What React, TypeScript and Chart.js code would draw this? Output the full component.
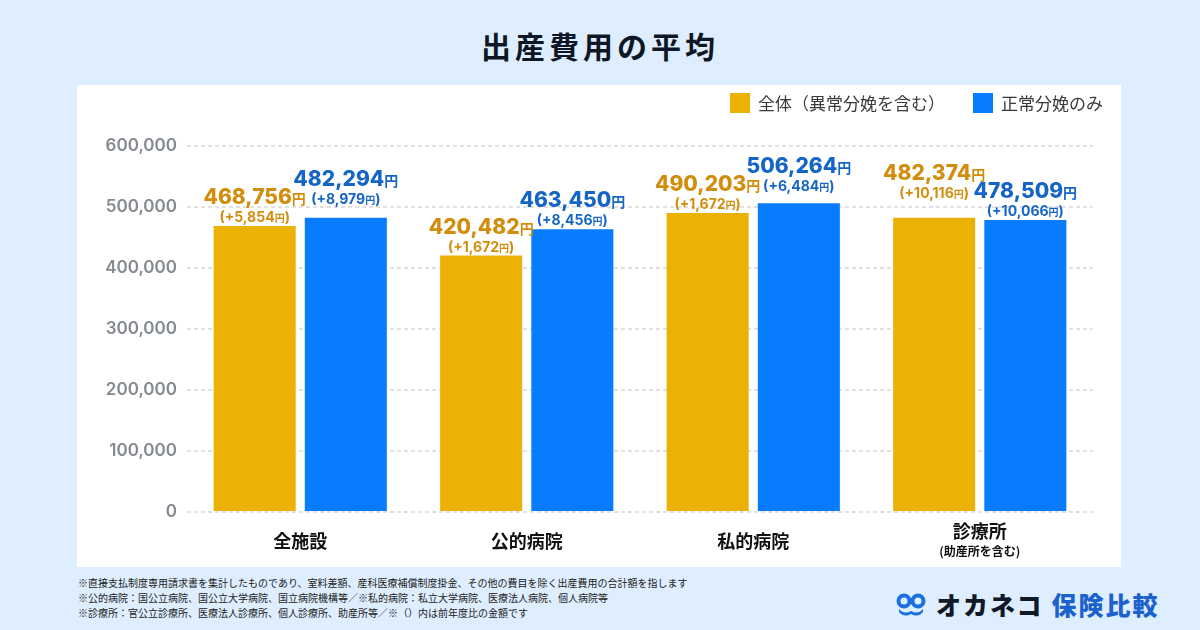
import React, { useEffect, useRef } from 'react';
import { Chart, registerables } from 'chart.js';

Chart.register(...registerables);

const categories = ['全施設', '公的病院', '私的病院', '診療所'];
const categorySubLabels = ['', '', '', '(助産所を含む)'];
const seriesNames = ['全体（異常分娩を含む）', '正常分娩のみ'];
const totalValues = [468756, 420482, 490203, 482374];
const normalValues = [482294, 463450, 506264, 478509];
const totalDiffs = [5854, 1672, 1672, 10116];
const normalDiffs = [8979, 8456, 6484, 10066];
const yTickValues = [0, 100000, 200000, 300000, 400000, 500000, 600000];

const footnotes = [
  '※直接支払制度専用請求書を集計したものであり、室料差額、産科医療補償制度掛金、その他の費目を除く出産費用の合計額を指します',
  '※公的病院：国公立病院、国公立大学病院、国立病院機構等／※私的病院：私立大学病院、医療法人病院、個人病院等',
  '※診療所：官公立診療所、医療法人診療所、個人診療所、助産所等／※（）内は前年度比の金額です',
];

const GOLD = '#ecb105';
const BLUE = '#077cff';
const GOLD_TEXT = '#d18d0b';
const BLUE_TEXT = '#1565c6';
const NUM_FONT = "Inter, 'Noto Sans CJK JP', sans-serif";
const JP_FONT = "'Noto Sans CJK JP', 'Noto Sans', sans-serif";

const fmt = (v: number) => v.toLocaleString('en-US');

const valueLabelPlugin = {
  id: 'valueLabels',
  afterDatasetsDraw(chart: any) {
    const ctx = chart.ctx;
    const diffs = [totalDiffs, normalDiffs];
    const colors = [GOLD_TEXT, BLUE_TEXT];
    const metas = chart.data.datasets.map((_: any, di: number) => chart.getDatasetMeta(di));
    const n = chart.data.labels.length;
    for (let i = 0; i < n; i++) {
      // label anchor per bar, with simple collision avoidance inside a category
      const anchors = metas.map((m: any) => m.data[i].y - 0);
      if (anchors.length === 2 && Math.abs(anchors[0] - anchors[1]) < 18) {
        if (anchors[0] <= anchors[1]) anchors[0] = anchors[1] - 18;
        else anchors[1] = anchors[0] - 18;
      }
      metas.forEach((meta: any, di: number) => {
        const bar = meta.data[i];
        const v = chart.data.datasets[di].data[i] as number;
        const top = anchors[di];
        ctx.save();
        ctx.fillStyle = colors[di];
        ctx.textBaseline = 'alphabetic';
        ctx.textAlign = 'left';
        const main = fmt(v);
        ctx.font = `800 21px ${NUM_FONT}`;
        const wMain = ctx.measureText(main).width;
        ctx.font = `700 14px ${JP_FONT}`;
        const wYen = ctx.measureText('円').width;
        let x = bar.x - (wMain + wYen) / 2;
        const yMain = top - 22;
        ctx.font = `800 21px ${NUM_FONT}`;
        ctx.fillText(main, x, yMain);
        ctx.font = `700 14px ${JP_FONT}`;
        ctx.fillText('円', x + wMain, yMain);
        const pre = `(+${fmt(diffs[di][i])}`;
        ctx.font = `700 14px ${NUM_FONT}`;
        const wPre = ctx.measureText(pre).width;
        const wClose = ctx.measureText(')').width;
        ctx.font = `700 10px ${JP_FONT}`;
        const wYen2 = ctx.measureText('円').width;
        x = bar.x - (wPre + wYen2 + wClose) / 2;
        const ySub = top - 4;
        ctx.font = `700 14px ${NUM_FONT}`;
        ctx.fillText(pre, x, ySub);
        ctx.font = `700 10px ${JP_FONT}`;
        ctx.fillText('円', x + wPre, ySub);
        ctx.font = `700 14px ${NUM_FONT}`;
        ctx.fillText(')', x + wPre + wYen2, ySub);
        ctx.restore();
      });
    }
  },
};

const categoryLabelPlugin = {
  id: 'categoryLabels',
  afterDraw(chart: any) {
    const ctx = chart.ctx;
    const xs = chart.scales.x;
    const base = chart.chartArea.bottom;
    ctx.save();
    ctx.fillStyle = '#111111';
    ctx.textAlign = 'center';
    ctx.textBaseline = 'middle';
    categories.forEach((c, i) => {
      const x = xs.getPixelForValue(i);
      const sub = categorySubLabels[i];
      ctx.font = `700 18px ${JP_FONT}`;
      if (sub) {
        ctx.fillText(c, x, base + 19);
        ctx.font = `700 12px ${JP_FONT}`;
        ctx.fillText(sub, x, base + 39);
      } else {
        ctx.fillText(c, x, base + 29);
      }
    });
    ctx.restore();
  },
};

const legendPlugin = {
  id: 'customLegend',
  afterDraw(chart: any) {
    const ctx = chart.ctx;
    const box = 20;
    const gapText = 8;
    const gapItem = 28;
    const rightEdge = 1026;
    const cy = 18;
    ctx.save();
    ctx.font = `400 17px ${JP_FONT}`;
    const items = chart.data.datasets.map((ds: any) => ({
      text: ds.label as string,
      color: ds.backgroundColor as string,
      w: ctx.measureText(ds.label).width,
    }));
    let total = 0;
    items.forEach((it: any, i: number) => {
      total += box + gapText + it.w + (i < items.length - 1 ? gapItem : 0);
    });
    let x = rightEdge - total;
    ctx.textBaseline = 'middle';
    ctx.textAlign = 'left';
    items.forEach((it: any) => {
      ctx.fillStyle = it.color;
      ctx.fillRect(x, cy - box / 2, box, box);
      x += box + gapText;
      ctx.fillStyle = '#3a3a3a';
      ctx.fillText(it.text, x, cy + 1);
      x += it.w + gapItem;
    });
    ctx.restore();
  },
};

function ChartCanvas() {
  const ref = useRef<HTMLCanvasElement | null>(null);
  useEffect(() => {
    if (!ref.current) return;
    const chart = new Chart(ref.current, {
      type: 'bar',
      data: {
        labels: categories,
        datasets: [
          {
            label: seriesNames[0],
            data: totalValues,
            backgroundColor: GOLD,
            categoryPercentage: 0.805,
            barPercentage: 0.9,
          },
          {
            label: seriesNames[1],
            data: normalValues,
            backgroundColor: BLUE,
            categoryPercentage: 0.805,
            barPercentage: 0.9,
          },
        ],
      },
      options: {
        responsive: false,
        animation: false,
        devicePixelRatio: 1,
        layout: { padding: { top: 61, bottom: 55, left: 0, right: 28 } },
        plugins: {
          legend: { display: false },
          tooltip: { enabled: false },
        },
        scales: {
          x: {
            display: false,
            grid: { display: false },
          },
          y: {
            min: 0,
            max: 600000,
            afterFit(scale: any) {
              scale.width = 110;
            },
            afterBuildTicks(scale: any) {
              scale.ticks = yTickValues.map((v) => ({ value: v }));
            },
            ticks: {
              padding: 10,
              color: '#858a91',
              font: { family: NUM_FONT, size: 17, weight: 600 },
              callback: (v: any) => fmt(Number(v)),
            },
            grid: {
              color: '#e1e1e1',
              lineWidth: 2,
              drawTicks: false,
            },
            border: { display: false, dash: [4, 3] },
          },
        },
      },
      plugins: [valueLabelPlugin, categoryLabelPlugin, legendPlugin],
    } as any);
    return () => chart.destroy();
  }, []);
  return <canvas ref={ref} width={1044} height={482} style={{ display: 'block', width: 1044, height: 482 }} />;
}

function LogoIcon() {
  return (
    <svg width="30" height="26" viewBox="0 0 30 26" style={{ display: 'block' }}>
      <circle cx="8" cy="10" r="5.5" fill="none" stroke="#1b6fe0" strokeWidth="4" />
      <circle cx="22" cy="10" r="5.5" fill="none" stroke="#1b6fe0" strokeWidth="4" />
      <path d="M3 18 Q8 24 15 20 Q22 24 27 18 L27 21 Q22 27 15 23 Q8 27 3 21 Z" fill="#1b6fe0" />
    </svg>
  );
}

export default function App() {
  useEffect(() => {
    document.body.style.margin = '0';
  }, []);
  return (
    <div
      style={{
        position: 'fixed',
        left: 0,
        top: 0,
        width: 1200,
        height: 630,
        background: '#deeefe',
        fontFamily: JP_FONT,
        overflow: 'hidden',
      }}
    >
      <div
        style={{
          position: 'absolute',
          top: 23,
          left: 0,
          width: 1200,
          textAlign: 'center',
          fontSize: 30,
          fontWeight: 700,
          letterSpacing: 4,
          lineHeight: '44px',
          color: '#0f1726',
        }}
      >
        出産費用の平均
      </div>
      <div style={{ position: 'absolute', left: 77, top: 85, width: 1044, height: 482, background: '#ffffff' }}>
        <ChartCanvas />
      </div>
      <div style={{ position: 'absolute', left: 78, top: 575, fontSize: 10, lineHeight: '15px', color: '#222222' }}>
        {footnotes.map((f, i) => (
          <div key={i}>{f}</div>
        ))}
      </div>
      <div style={{ position: 'absolute', left: 896, top: 589, display: 'flex', alignItems: 'center', height: 30 }}>
        <LogoIcon />
        <span style={{ marginLeft: 10, fontSize: 25, fontWeight: 900, letterSpacing: 2, color: '#111827', lineHeight: '30px' }}>
          オカネコ
        </span>
        <span style={{ marginLeft: 8, fontSize: 25, fontWeight: 900, letterSpacing: 2, color: '#1b62cf', lineHeight: '30px' }}>
          保険比較
        </span>
      </div>
    </div>
  );
}
